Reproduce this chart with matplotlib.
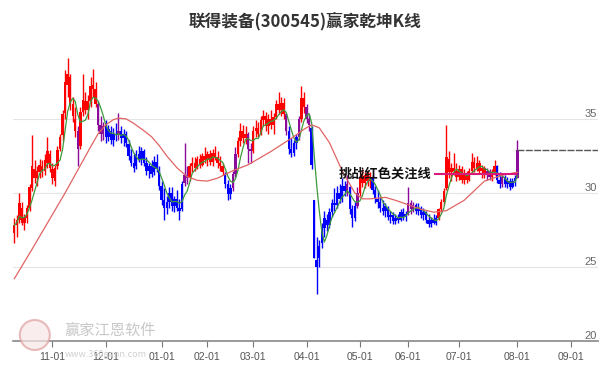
import numpy as np
import pandas as pd
import matplotlib
matplotlib.use('Agg')
import matplotlib.pyplot as plt
from matplotlib.patches import Ellipse

plt.rcParams['font.family'] = ['Noto Sans CJK SC', 'DejaVu Sans']

# 数据
title = '联得装备(300545)赢家乾坤K线'
label_text = '挑战红色关注线'

opens = [27.3, 27.8, 28.2, 29.0, 28.0, 28.3, 29.0, 30.3, 31.6, 31.0,
         31.4, 31.8, 31.5, 32.0, 32.6, 31.6, 30.8, 31.8, 33.0, 33.9,
         35.4, 37.3, 37.8, 36.0, 35.0, 34.2, 33.2, 35.5, 36.2, 35.6,
         36.2, 37.3, 37.0, 36.0, 34.6, 34.0, 34.5, 33.8, 34.2, 33.6,
         34.0, 33.9, 34.2, 33.7, 34.0, 33.3, 32.5, 32.0, 31.8, 32.6,
         32.3, 32.8, 32.0, 31.5, 31.8, 31.4, 32.1, 31.5, 30.5, 29.5,
         29.0, 29.4, 30.0, 29.1, 29.6, 29.0, 28.9, 30.7, 31.2, 31.0,
         31.8, 32.0, 31.7, 32.3, 31.9, 32.5, 32.2, 32.6, 32.1, 32.7,
         32.4, 32.0, 31.8, 31.3, 30.6, 29.9, 30.3, 31.3, 32.6, 33.5,
         34.2, 33.7, 34.0, 33.0, 32.8, 34.2, 34.4, 34.0, 34.9, 35.2,
         34.5, 35.0, 34.6, 35.1, 36.0, 35.6, 36.1, 35.3, 34.2, 33.0,
         32.7, 33.4, 33.8, 35.0, 36.4, 35.8, 35.0, 34.4, 29.5, 25.0,
         25.6, 26.6, 27.6, 28.2, 27.8, 28.7, 29.3, 29.2, 30.0, 29.6,
         30.5, 30.1, 30.4, 28.9, 28.3, 29.1, 30.0, 31.0, 30.7, 31.2,
         30.8, 31.0, 30.2, 29.6, 29.4, 29.0, 28.8, 29.0, 28.4, 28.5,
         28.1, 28.3, 28.2, 28.7, 28.4, 28.6, 29.3, 28.9, 29.2, 28.8,
         29.0, 28.5, 28.7, 28.2, 27.9, 28.2, 28.0, 28.3, 28.9, 29.4,
         30.3, 32.3, 31.4, 31.7, 31.5, 31.1, 31.6, 30.9, 31.3, 30.9,
         31.5, 32.1, 31.7, 32.0, 31.5, 31.7, 31.2, 31.5, 31.1, 31.4,
         31.8, 30.9, 30.6, 31.1, 30.6, 30.8, 30.4, 30.8, 31.0]

highs = [28.3, 28.5, 30.0, 29.4, 28.6, 29.2, 30.6, 33.9, 32.2, 31.8,
         32.3, 32.2, 32.6, 33.8, 32.9, 32.0, 31.9, 33.2, 34.0, 35.6,
         38.3, 39.1, 38.0, 36.5, 35.8, 34.5, 35.8, 38.0, 36.8, 36.6,
         37.8, 38.4, 37.5, 36.2, 35.2, 34.8, 34.9, 34.6, 34.5, 34.4,
         34.7, 35.4, 34.5, 34.3, 34.2, 33.6, 33.0, 32.6, 32.9, 33.2,
         33.1, 33.0, 32.4, 32.0, 32.2, 32.5, 32.6, 31.8, 30.8, 30.3,
         29.8, 30.4, 30.4, 29.8, 30.2, 29.6, 30.8, 33.4, 31.8, 32.0,
         32.4, 32.4, 32.5, 32.6, 32.7, 33.1, 32.8, 32.9, 33.0, 33.2,
         32.8, 32.5, 32.0, 31.4, 30.9, 30.6, 31.5, 33.1, 33.8, 34.7,
         34.6, 34.5, 34.1, 33.4, 34.5, 34.9, 34.8, 35.2, 35.6, 35.5,
         35.3, 35.6, 35.4, 36.3, 36.8, 36.5, 36.4, 35.4, 34.5, 33.7,
         33.6, 34.0, 35.2, 37.2, 36.8, 36.0, 35.3, 34.5, 29.5, 27.0,
         26.8, 28.0, 28.8, 28.6, 29.0, 29.6, 30.3, 30.5, 30.6, 31.0,
         30.8, 31.2, 30.5, 29.2, 29.4, 30.4, 31.3, 31.6, 31.4, 31.5,
         31.4, 31.2, 30.5, 30.2, 29.7, 29.5, 29.3, 29.1, 28.8, 28.7,
         28.6, 28.6, 28.9, 29.0, 28.8, 30.4, 29.5, 29.4, 29.3, 29.3,
         29.1, 29.0, 28.8, 28.6, 28.4, 28.6, 28.5, 29.0, 29.6, 30.3,
         34.6, 32.8, 32.0, 32.7, 32.0, 31.9, 31.8, 31.6, 31.5, 31.7,
         32.7, 32.4, 32.5, 32.2, 31.9, 31.8, 31.7, 31.6, 31.6, 32.2,
         31.9, 31.4, 31.3, 31.2, 31.1, 31.0, 31.0, 31.2, 33.6]

lows = [26.6, 27.0, 28.0, 27.8, 27.5, 28.0, 28.8, 30.1, 30.7, 30.5,
        31.0, 31.1, 31.2, 31.7, 31.4, 30.6, 30.5, 31.6, 32.8, 33.5,
        35.0, 36.5, 35.6, 34.8, 33.8, 31.8, 33.0, 35.2, 35.3, 35.0,
        35.8, 36.5, 35.8, 34.2, 33.5, 33.6, 33.4, 33.5, 33.3, 33.2,
        33.5, 33.6, 33.4, 33.2, 33.1, 32.2, 31.8, 31.4, 31.6, 32.1,
        31.9, 31.8, 31.2, 31.0, 31.1, 31.2, 31.4, 30.2, 29.2, 28.2,
        28.6, 29.0, 28.8, 28.7, 28.8, 28.2, 28.8, 30.5, 30.6, 30.8,
        31.4, 31.5, 31.6, 31.7, 31.8, 32.0, 31.8, 31.9, 31.8, 32.2,
        31.7, 31.5, 31.2, 30.3, 29.5, 29.6, 30.1, 31.1, 32.4, 33.2,
        33.4, 33.3, 32.0, 32.0, 32.7, 33.8, 33.8, 33.9, 34.5, 34.2,
        34.0, 34.3, 34.0, 35.0, 35.3, 35.2, 35.0, 33.9, 32.6, 32.4,
        32.5, 33.0, 33.6, 34.8, 35.4, 34.7, 34.2, 31.6, 25.6, 23.2,
        25.0, 26.3, 27.0, 27.4, 27.6, 28.4, 28.8, 29.0, 29.3, 29.4,
        29.8, 29.8, 28.6, 27.7, 28.1, 29.0, 29.8, 30.4, 30.3, 30.5,
        30.3, 29.9, 29.3, 29.0, 28.7, 28.5, 28.4, 28.2, 28.0, 27.9,
        27.9, 28.0, 28.1, 28.2, 28.1, 28.5, 28.6, 28.7, 28.6, 28.5,
        28.3, 28.2, 28.0, 27.7, 27.7, 27.9, 27.8, 28.2, 28.7, 29.2,
        30.2, 31.0, 30.8, 31.2, 30.8, 30.9, 30.7, 30.6, 30.7, 30.8,
        31.3, 31.4, 31.5, 31.3, 31.0, 31.0, 30.9, 30.9, 30.8, 31.2,
        30.7, 30.3, 30.4, 30.4, 30.3, 30.2, 30.3, 30.5, 31.0]

closes = [27.8, 28.2, 29.3, 28.0, 28.4, 29.0, 30.4, 31.8, 31.0, 31.5,
          31.9, 31.4, 32.2, 32.8, 31.7, 31.0, 31.7, 32.9, 33.8, 35.3,
          37.5, 38.0, 36.0, 35.2, 34.2, 33.0, 35.5, 36.3, 35.6, 36.2,
          37.2, 37.0, 36.0, 34.6, 34.0, 34.5, 33.8, 34.3, 33.6, 34.0,
          33.9, 34.2, 33.7, 34.0, 33.4, 32.5, 32.0, 31.7, 32.6, 32.3,
          32.8, 32.0, 31.5, 31.8, 31.3, 32.1, 31.6, 30.5, 29.5, 29.0,
          29.4, 30.0, 29.1, 29.6, 29.0, 28.8, 30.6, 31.2, 31.0, 31.8,
          32.0, 31.7, 32.3, 31.9, 32.5, 32.2, 32.6, 32.1, 32.7, 32.4,
          32.0, 31.8, 31.4, 30.6, 29.9, 30.3, 31.3, 32.6, 33.5, 34.2,
          33.7, 34.0, 33.0, 32.8, 34.2, 34.4, 34.0, 34.9, 35.2, 34.5,
          35.0, 34.6, 35.1, 36.0, 35.6, 36.1, 35.3, 34.2, 33.0, 32.7,
          33.4, 33.8, 35.0, 36.4, 35.8, 35.0, 34.6, 31.9, 25.6, 25.5,
          26.4, 27.6, 28.3, 27.8, 28.7, 29.3, 29.2, 30.0, 29.6, 30.5,
          30.1, 30.6, 28.9, 28.3, 29.1, 30.0, 31.0, 30.7, 31.2, 30.8,
          31.1, 30.2, 29.6, 29.4, 29.0, 28.8, 29.1, 28.4, 28.5, 28.1,
          28.3, 28.2, 28.7, 28.4, 28.6, 29.3, 28.9, 29.2, 28.8, 29.0,
          28.5, 28.7, 28.2, 27.9, 28.2, 28.0, 28.3, 28.9, 29.4, 30.1,
          32.4, 31.4, 31.7, 31.5, 31.1, 31.6, 30.9, 31.3, 30.9, 31.5,
          32.1, 31.7, 32.0, 31.5, 31.7, 31.2, 31.5, 31.1, 31.4, 31.8,
          30.9, 30.6, 31.1, 30.6, 30.8, 30.4, 30.8, 31.0, 32.9]

# 颜色: R=红 B=蓝 P=紫
color_codes = ('RRRRRRRRRRRRRRRRRRRRRRRRRPRRRRRRRPPPBBBBBPBBBBBBBBBBBBBBBBBBBBBBBBB'
               'PPRRRRRRRRRRRRRRBBBPPRRRRPPRRRRRRRRRRRRRPBBBBPRRPPBBBBBBBBBBBBBBP'
               'BBBPRRRRRBBBBBBBBBBBBBBPPPBBBBBBBBBRRRRRRRRRRRRRRRRRRRPPRRBBPBBBBBP')

# 红色长期均线 (交易日序号, 数值)
red_idx = [0, 7, 20, 30, 33, 36, 39, 41, 44, 47, 51, 54, 57, 60, 64, 68, 72,
           76, 80, 86, 92, 101, 110, 114, 117, 120, 124, 129, 134, 137, 140,
           146, 150, 155, 160, 165, 170, 177, 185, 192, 198]
red_val = [24.2, 26.2, 30.0, 33.1, 34.0, 34.6, 34.95, 35.05, 35.0, 34.7, 34.2,
           33.8, 33.2, 32.5, 31.7, 31.1, 30.85, 30.8, 31.0, 31.5, 31.9, 32.8,
           33.8, 34.3, 34.6, 34.4, 33.4, 31.5, 30.0, 29.6, 29.6, 29.7, 29.5,
           29.2, 28.9, 28.7, 28.8, 29.5, 30.8, 31.2, 31.4]

focus_level = 31.3
focus_start = 165

month_labels = ['11-01', '12-01', '01-01', '02-01', '03-01', '04-01',
                '05-01', '06-01', '07-01', '08-01', '09-01']
y_ticks = [20, 25, 30, 35]

holidays = ['2025-01-01', '2025-01-28', '2025-01-29', '2025-01-30', '2025-01-31',
            '2025-02-03', '2025-02-04', '2025-04-04', '2025-05-01', '2025-05-02',
            '2025-05-05', '2025-06-02']

# 交易日
days = pd.bdate_range('2024-10-11', '2025-09-15')
days = days[~days.isin(pd.to_datetime(holidays))]
n = len(closes)
x = np.arange(n)

o = np.array(opens)
h = np.array(highs)
l = np.array(lows)
c = np.array(closes)
cmap = {'R': '#ff0000', 'B': '#0000ff', 'P': '#8a0a9a'}
cols = [cmap[k] for k in color_codes]

green = pd.Series(c).rolling(5, min_periods=1).mean()

fig = plt.figure(figsize=(6, 3.71), dpi=100)
ax = fig.add_axes([0.0217, 0.081, 0.975, 0.798])

ax.vlines(x, l, h, colors=cols, lw=1.0, zorder=2)
ax.bar(x, np.maximum(np.abs(c - o), 0.08), bottom=np.minimum(o, c), width=0.95,
       color=cols, zorder=2)

ax.plot(x, green, color='#3c9a3c', lw=0.9, zorder=3)
ax.plot(red_idx, red_val, color='#e06464', lw=0.9, zorder=3)

# 关注线
ax.hlines(focus_level, focus_start, n - 1, colors='#d81b7a', lw=1.5, zorder=4)
ax.text(focus_start - 1, focus_level, label_text, ha='right', va='center',
        fontsize=9.5, fontweight='bold', color='#111111', zorder=5)

# 最新价虚线
ax.hlines(c[-1], n - 1, len(days) - 0.5, colors='#555555', lw=1,
          linestyles=(0, (5, 1)), zorder=3)

ax.set_xlim(-0.5, len(days) - 0.3)
ax.set_ylim(20, 40)

tick_pos = [int(np.argmax(days >= pd.Timestamp('2024-11-01') + pd.DateOffset(months=k)))
            for k in range(len(month_labels))]
ax.set_xticks(tick_pos)
ax.set_xticklabels(month_labels, fontsize=7.5, color='#555555', family='Liberation Sans')
ax.tick_params(axis='x', length=4, width=0.8, color='#777777', pad=4)

ax.yaxis.tick_right()
ax.set_yticks(y_ticks)
ax.set_yticklabels([str(v) for v in y_ticks], fontsize=8, color='#666666',
                   ha='right', va='bottom', family='Liberation Sans')
ax.tick_params(axis='y', length=0, pad=-1)
ax.grid(axis='y', color='#e4e4e4', lw=0.8)
ax.set_axisbelow(True)

for s in ['top', 'left', 'right']:
    ax.spines[s].set_visible(False)
ax.spines['bottom'].set_color('#888888')
ax.spines['bottom'].set_linewidth(1.2)

fig.text(0.508, 0.943, title, ha='center', va='center', fontsize=12,
         fontweight='bold', color='#333333')

# 水印
fig.patches.append(Ellipse((0.058, 0.097), 0.05, 0.081, transform=fig.transFigure,
                           fc='#f7e6e6', ec='#e0a0a0', lw=1.5, alpha=0.7, zorder=0))
fig.text(0.108, 0.11, '赢家江恩软件', fontsize=11, color='#c8c8c8', va='center')
fig.text(0.108, 0.045, 'www.360gann.com', fontsize=6.5, color='#d0d0d0', va='center')

fig.savefig('out.png', dpi=100)
